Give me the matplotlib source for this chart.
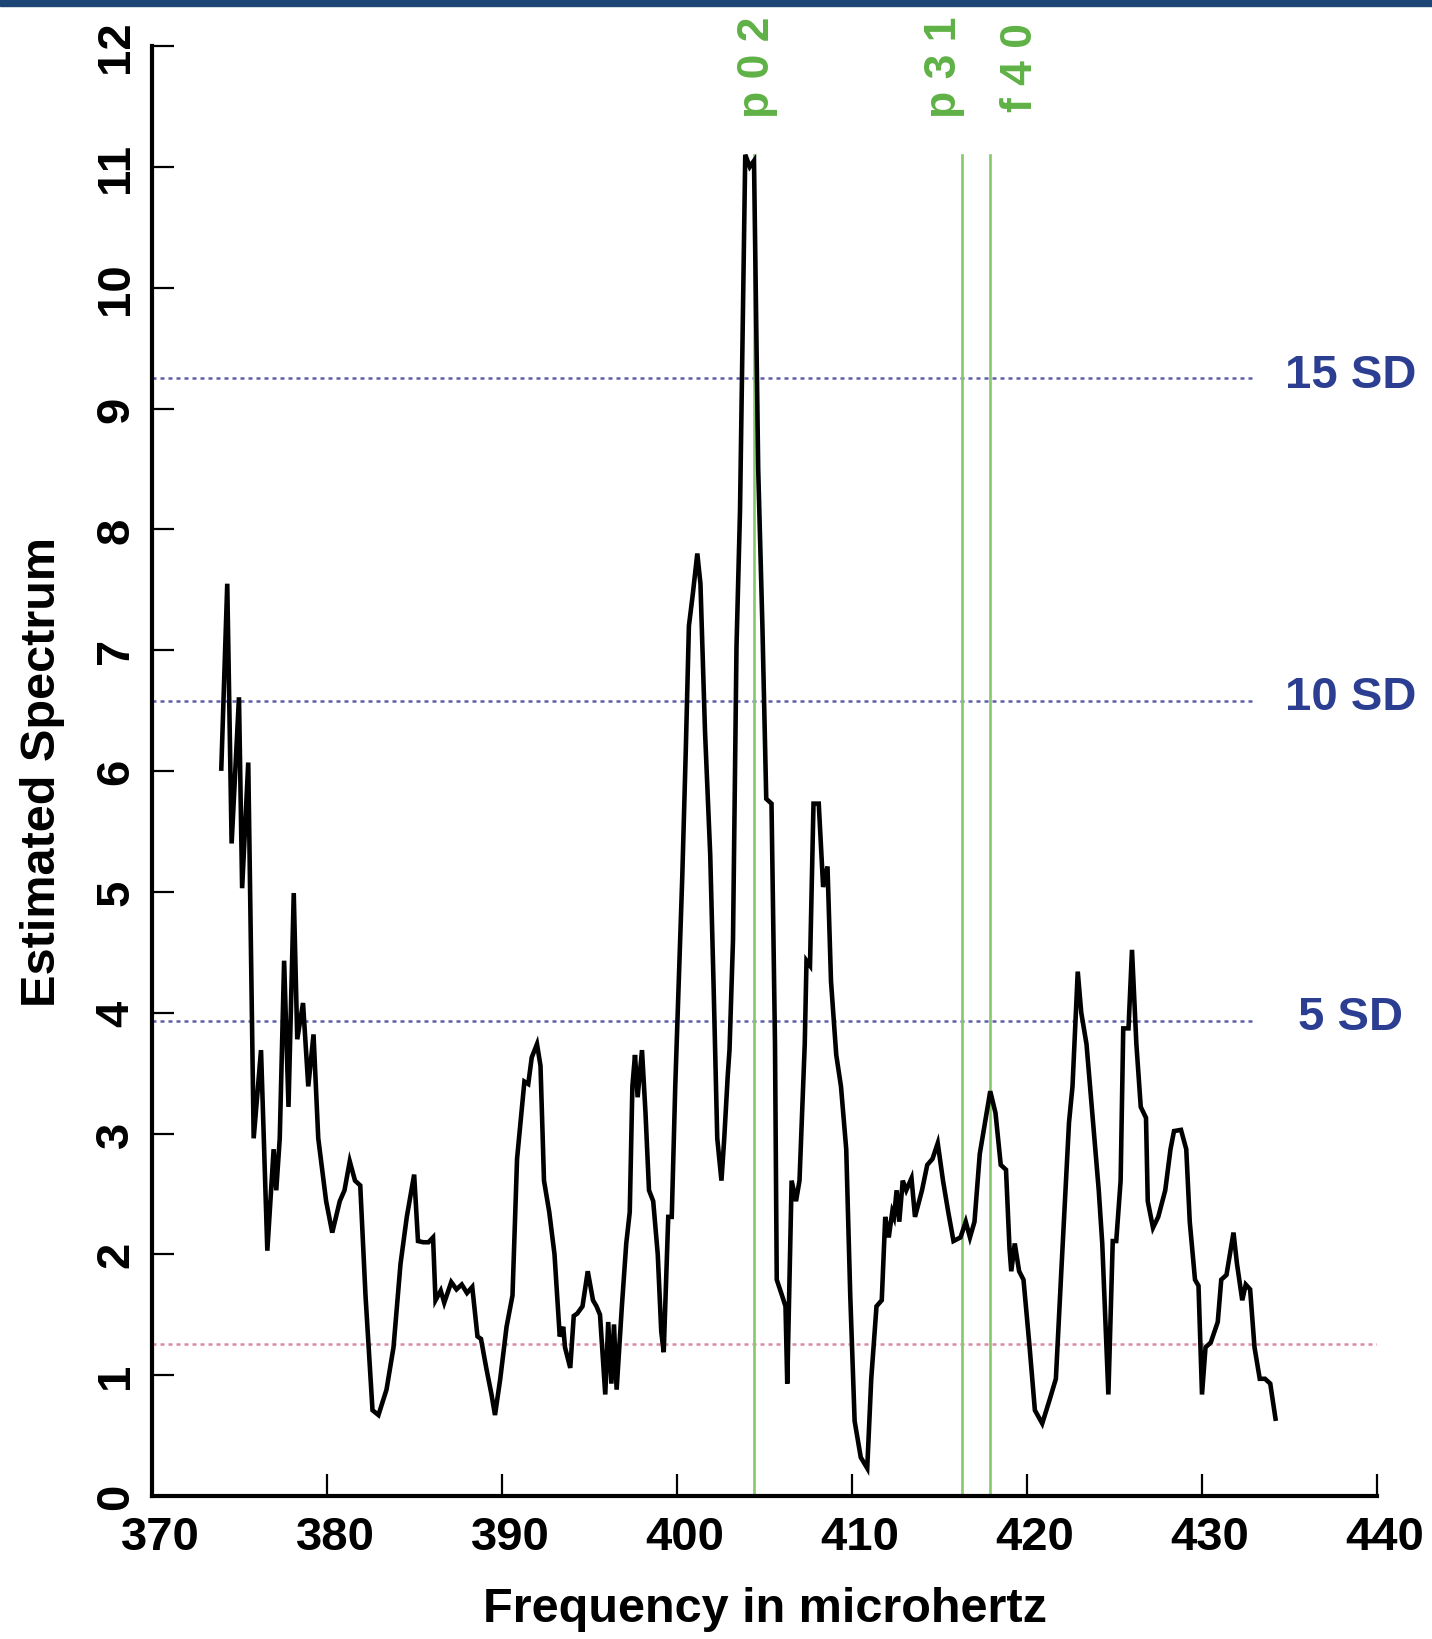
import matplotlib
matplotlib.use("Agg")
import matplotlib.pyplot as plt
from matplotlib.patches import Rectangle
from matplotlib.transforms import ScaledTranslation

plt.rcParams['font.family'] = ['Liberation Sans', 'DejaVu Sans']

freq = [373.96, 374.3, 374.55, 374.97, 375.15, 375.5, 375.81, 376.23, 376.59, 376.95, 377.1, 377.3,
        377.55, 377.8, 378.1, 378.3, 378.63, 378.93, 379.23, 379.5, 379.95, 380.3, 380.73, 381.0,
        381.3, 381.6, 381.9, 382.2, 382.6, 382.94, 383.4, 383.8, 384.2, 384.56, 384.98, 385.2,
        385.5, 385.8, 386.06, 386.2, 386.5, 386.7, 387.1, 387.4, 387.7, 388.0, 388.3, 388.6,
        388.8, 389.1, 389.4, 389.6, 389.9, 390.26, 390.6, 390.86, 391.03, 391.28, 391.5, 391.7,
        392.0, 392.2, 392.4, 392.7, 393.0, 393.3, 393.5, 393.6, 393.9, 394.1, 394.3, 394.6,
        394.9, 395.2, 395.4, 395.6, 395.9, 396.07, 396.25, 396.4, 396.55, 396.85, 397.1, 397.3,
        397.45, 397.6, 397.75, 398.0, 398.2, 398.4, 398.64, 398.9, 399.1, 399.24, 399.5, 399.7,
        399.9, 400.1, 400.3, 400.5, 400.68, 400.9, 401.16, 401.34, 401.6, 401.9, 402.1, 402.3,
        402.54, 402.7, 402.9, 403.0, 403.2, 403.4, 403.6, 403.9, 404.16, 404.4, 404.64, 404.88,
        405.1, 405.4, 405.6, 405.7, 406.0, 406.2, 406.3, 406.55, 406.8, 407.0, 407.3, 407.4,
        407.6, 407.8, 408.1, 408.35, 408.6, 408.8, 409.1, 409.37, 409.67, 409.9, 410.15, 410.5,
        410.87, 411.1, 411.4, 411.7, 411.9, 412.1, 412.3, 412.4, 412.55, 412.7, 412.9, 413.1,
        413.4, 413.6, 414.0, 414.3, 414.6, 414.9, 415.2, 415.5, 415.8, 416.2, 416.5, 416.74,
        417.0, 417.3, 417.6, 417.9, 418.2, 418.5, 418.8, 419.0, 419.1, 419.3, 419.55, 419.8,
        420.15, 420.45, 420.87, 421.3, 421.65, 421.95, 422.4, 422.6, 422.9, 423.1, 423.4, 423.7,
        424.1, 424.3, 424.65, 424.9, 425.1, 425.35, 425.5, 425.8, 426.0, 426.25, 426.5, 426.8,
        426.9, 427.2, 427.5, 427.9, 428.2, 428.4, 428.8, 429.1, 429.3, 429.6, 429.8, 430.0,
        430.2, 430.5, 430.9, 431.1, 431.4, 431.8, 432.0, 432.3, 432.5, 432.75, 433.0, 433.3,
        433.6, 433.9, 434.2]
spectrum = [6.02, 7.55, 5.4, 6.61, 5.03, 6.07, 2.96, 3.69, 2.03, 2.87, 2.53, 2.96,
            4.43, 3.22, 4.99, 3.78, 4.08, 3.39, 3.82, 2.96, 2.44, 2.18, 2.44, 2.53,
            2.77, 2.61, 2.57, 1.66, 0.71, 0.67, 0.88, 1.23, 1.92, 2.31, 2.66, 2.11,
            2.10, 2.10, 2.14, 1.62, 1.70, 1.60, 1.77, 1.71, 1.75, 1.68, 1.73, 1.32,
            1.30, 1.06, 0.84, 0.67, 0.97, 1.40, 1.66, 2.79, 3.05, 3.43, 3.41, 3.63,
            3.74, 3.56, 2.61, 2.35, 2.00, 1.32, 1.40, 1.23, 1.06, 1.49, 1.51, 1.57,
            1.86, 1.62, 1.57, 1.50, 0.84, 1.44, 0.93, 1.42, 0.88, 1.57, 2.09, 2.35,
            3.39, 3.65, 3.30, 3.69, 3.17, 2.53, 2.44, 2.00, 1.36, 1.19, 2.31, 2.31,
            3.39, 4.26, 5.12, 6.16, 7.20, 7.46, 7.80, 7.55, 6.33, 5.30, 4.17, 2.96,
            2.61, 2.96, 3.48, 3.69, 4.60, 7.03, 8.15, 11.10, 11.00, 11.05, 8.50, 7.20,
            5.77, 5.73, 3.74, 1.79, 1.66, 1.57, 0.93, 2.61, 2.44, 2.61, 3.74, 4.43,
            4.39, 5.73, 5.73, 5.04, 5.21, 4.26, 3.65, 3.39, 2.87, 1.66, 0.62, 0.32,
            0.23, 0.97, 1.57, 1.62, 2.31, 2.14, 2.35, 2.31, 2.53, 2.27, 2.61, 2.53,
            2.63, 2.31, 2.53, 2.74, 2.79, 2.92, 2.61, 2.35, 2.11, 2.14, 2.27, 2.14,
            2.27, 2.83, 3.09, 3.35, 3.17, 2.74, 2.70, 2.05, 1.86, 2.09, 1.86, 1.79,
            1.23, 0.71, 0.60, 0.80, 0.97, 1.83, 3.09, 3.39, 4.34, 4.00, 3.74, 3.22,
            2.53, 2.09, 0.84, 2.11, 2.11, 2.61, 3.87, 3.87, 4.52, 3.74, 3.22, 3.13,
            2.44, 2.22, 2.31, 2.53, 2.87, 3.02, 3.03, 2.87, 2.27, 1.79, 1.74, 0.84,
            1.23, 1.27, 1.44, 1.79, 1.83, 2.18, 1.92, 1.62, 1.75, 1.71, 1.23, 0.97,
            0.97, 0.93, 0.64]

sd_levels = [9.25, 6.58, 3.93]
sd_labels = ["15 SD", "10 SD", "5 SD"]
base_level = 1.255

mode_freqs = [404.4, 416.3, 417.9]
mode_label_x = [404.6, 415.3, 419.6]
mode_labels = ["p 0 2", "p 3 1", "f 4 0"]

xticks = [370, 380, 390, 400, 410, 420, 430, 440]
yticks = list(range(0, 13))

fig = plt.figure(figsize=(14.32, 16.4), dpi=100)
fig.patches.append(Rectangle((0, 1 - 7 / 1640), 1, 7 / 1640, transform=fig.transFigure,
                             color='#1d4677', zorder=10))
ax = fig.add_axes([152 / 1432, 143 / 1640, (1377 - 152) / 1432, (1497 - 47) / 1640])
ax.set_xlim(370, 440)
ax.set_ylim(0, 12)

for lev in sd_levels:
    ax.plot([370, 433], [lev, lev], color='#5f5fb0', lw=1.8, ls=(0, (1.6, 1.6)), zorder=1)
ax.plot([370, 440], [base_level, base_level], color='#d98aa4', lw=1.8, ls=(0, (1.6, 1.6)), zorder=1)

for mf in mode_freqs:
    ax.plot([mf, mf], [0, 11.1], color='#86c96a', lw=1.9, zorder=2)

ax.plot(freq, spectrum, color='black', lw=3.3, zorder=3, solid_joinstyle='miter')

for lev, lab in zip(sd_levels, sd_labels):
    ax.text(438.5, lev + 0.03, lab, color='#2c3e92', fontsize=34, fontweight='bold',
            ha='center', va='center', clip_on=False)

for lx, lab in zip(mode_label_x, mode_labels):
    ax.text(lx, 11.83, lab, color='#5fb246', fontsize=32, fontweight='bold', rotation=90,
            ha='center', va='center', clip_on=False)

for s in ['top', 'right']:
    ax.spines[s].set_visible(False)
for s in ['left', 'bottom']:
    ax.spines[s].set_linewidth(3.0)

ax.set_xticks(xticks)
ax.set_yticks(yticks)
ax.set_yticklabels([str(v) for v in yticks], rotation=90, va='center')
ax.tick_params(direction='in', length=16, width=1.6, labelsize=34, pad=10)
ax.tick_params(axis='x', pad=14)
shift = ScaledTranslation(8 / 100, 0, fig.dpi_scale_trans)
for t in ax.get_xticklabels():
    t.set_transform(t.get_transform() + shift)
for t in ax.get_xticklabels() + ax.get_yticklabels():
    t.set_fontweight('bold')

ax.set_xlabel("Frequency in microhertz", fontsize=35, fontweight='bold', labelpad=19)
ax.set_ylabel("Estimated Spectrum", fontsize=35, fontweight='bold')
ax.yaxis.set_label_coords(-0.071, 0.5)

fig.savefig("out.png", dpi=100)
